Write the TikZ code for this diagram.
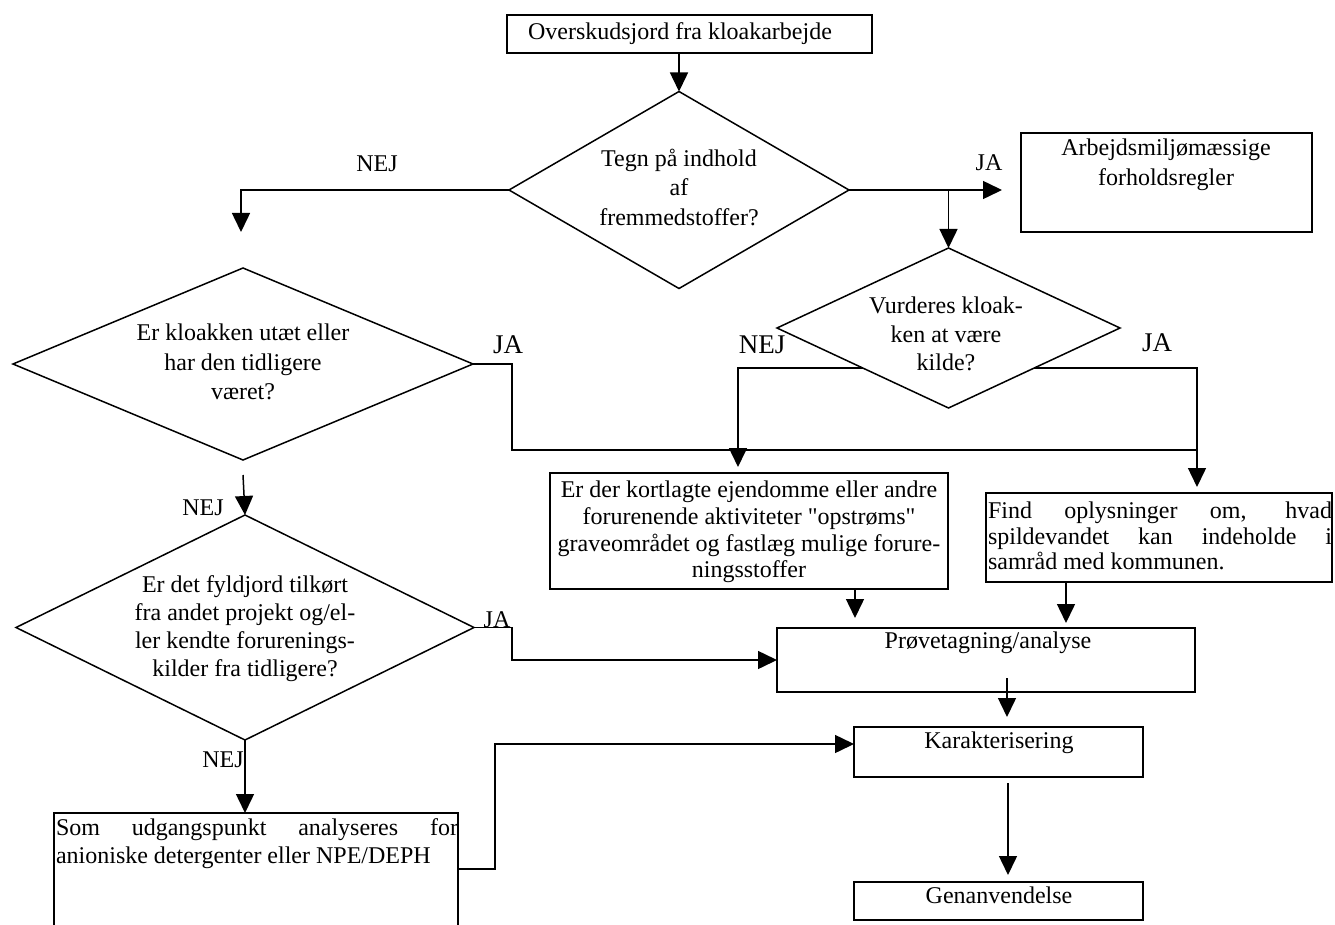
\documentclass[tikz,border=0pt]{standalone}
\usepackage{fontspec}
\setmainfont{Liberation Serif}[Ligatures=TeXOff]
\usetikzlibrary{arrows.meta,shapes.geometric,calc}
\begin{document}
\begin{tikzpicture}[x=1pt,y=-1pt,
  every node/.style={inner sep=0pt, outer sep=0pt},
  box/.style={draw, line width=1.5pt, rectangle},
  dia/.style={draw, line width=1.5pt, diamond},
  txt/.style={font=\fontsize{24}{28}\selectfont, align=center},
  lab/.style={font=\fontsize{24}{28}\selectfont},
  biglab/.style={font=\fontsize{27}{30}\selectfont},
  con/.style={line width=1.5pt},
  arr/.style={con, -{Triangle[length=19pt,width=18pt]}},
]
\useasboundingbox (0,0) rectangle (1335,925);
\fill[white] (0,0) rectangle (1335,925);

% boxes
\node[box, minimum width=365pt, minimum height=38pt] (top) at (689.5,34) {};
\node[box, minimum width=291pt, minimum height=99pt] (arb) at (1166.5,182.5) {};
\node[box, minimum width=398pt, minimum height=116pt] (erder) at (749,531) {};
\node[box, minimum width=346pt, minimum height=89pt] (find) at (1159,537.5) {};
\node[box, minimum width=418pt, minimum height=64pt] (proeve) at (986,660) {};
\node[box, minimum width=289pt, minimum height=50pt] (karak) at (998.5,752) {};
\node[box, minimum width=289pt, minimum height=38pt] (genan) at (998.5,901) {};
\node[minimum width=404pt, minimum height=112pt] (som) at (256,869) {};
\draw[con] (som.south west) -- (som.north west) -- (som.north east) -- (som.south east);

% diamonds
\node[dia, minimum width=340pt, minimum height=197pt] (tegn) at (679,190) {};
\node[dia, minimum width=460pt, minimum height=192pt] (kloak) at (243,364) {};
\node[dia, minimum width=343pt, minimum height=160pt] (vurd) at (948.5,328) {};
\node[dia, minimum width=458pt, minimum height=225pt] (erdet) at (245,627.5) {};

% texts
\node[txt] (ttop) at (680,34) {Overskudsjord fra kloakarbejde};
\node[txt, font=\fontsize{24}{29.5}\selectfont] (ttegn) at (679,187) {Tegn på indhold\\af\\fremmedstoffer?};
\node[txt, font=\fontsize{24}{30}\selectfont] (tarb) at (1166,165) {Arbejdsmiljømæssige\\forholdsregler};
\node[txt, font=\fontsize{24}{29.5}\selectfont] (tkloak) at (243,362) {Er kloakken utæt eller\\har den tidligere\\været?};
\node[txt, font=\fontsize{24}{28.5}\selectfont] (tvurd) at (946,334) {Vurderes kloak-\\ken at være\\kilde?};
\node[txt, font=\fontsize{24}{26.7}\selectfont] (terder) at (749,532) {Er der kortlagte ejendomme eller andre\\forurenende aktiviteter "opstrøms"\\graveområdet og fastlæg mulige forure-\\ningsstoffer};
\node[txt, align=left, anchor=west, font=\fontsize{24}{25.5}\selectfont] (tfind) at (988,536) {\makebox[344pt][s]{Find oplysninger om, hvad}\\\makebox[344pt][s]{spildevandet kan indeholde i}\\samråd med kommunen.};
\node[txt, font=\fontsize{24}{28}\selectfont] (terdet) at (245,629) {Er det fyldjord tilkørt\\fra andet projekt og/el-\\ler kendte forurenings-\\kilder fra tidligere?};
\node[txt] (tproeve) at (988,643) {Prøvetagning/analyse};
\node[txt] (tkarak) at (999,743) {Karakterisering};
\node[txt] (tgenan) at (999,895) {Genanvendelse};
\node[txt, align=left, anchor=west] (tsom) at (56,844) {\makebox[402pt][s]{Som udgangspunkt analyseres for}\\anioniske detergenter eller NPE/DEPH};

% labels
\node[lab] (lnej1) at (377,164) {NEJ};
\node[lab] (lja1) at (989,163) {JA};
\node[biglab] (lja2) at (508,345) {JA};
\node[biglab] (lnej2) at (762,345) {NEJ};
\node[biglab] (lja3) at (1157,343) {JA};
\node[lab] (lnej3) at (203,508) {NEJ};
\node[lab] (lja4) at (497,620) {JA};
\node[lab] (lnej4) at (223,760) {NEJ};

% connectors
\coordinate (nejend) at (241,232);
\coordinate (jaend) at (1002,190);
\coordinate (merge) at (1197,450);
\draw[arr] (top.south -| tegn.north) -- (tegn.north);
\draw[arr] (tegn.west) -| (nejend);
\draw[arr] (tegn.east) -- (jaend);
\draw[arr] (tegn.east -| vurd.north) -- (vurd.north);
\draw[arr, shorten >=6pt] ($(vurd.west)!0.5!(vurd.south)$) -| ([xshift=-11pt]erder.north);
\draw[arr, shorten >=6pt] ($(vurd.east)!0.5!(vurd.south)$) -| ([xshift=38pt]find.north);
\draw[con] (kloak.east) -- ++(39,0) |- (merge);
\draw[arr] ([yshift=-15pt]kloak.south) -- (erdet.north);
\draw[arr] (erdet.east) -- ++(38,0) |- (proeve.west);
\draw[arr] (erdet.south) -- (erdet.south |- som.north);
\draw[arr] (som.east) -- ++(37,0) |- ([yshift=8pt]karak.west);
\draw[arr, shorten >=10pt] ([xshift=-93pt]erder.south east) coordinate (p1) -- (p1 |- proeve.north);
\draw[arr, shorten >=5pt] ([xshift=-93pt]find.south) coordinate (p2) -- (p2 |- proeve.north);
\draw[arr, shorten >=10pt] ([xshift=21pt,yshift=14pt]proeve.south) coordinate (p3) -- (p3 |- karak.north);
\draw[arr, shorten >=7pt] ([xshift=9.5pt,yshift=-6pt]karak.south) coordinate (p4) -- (p4 |- genan.north);
\end{tikzpicture}
\end{document}
